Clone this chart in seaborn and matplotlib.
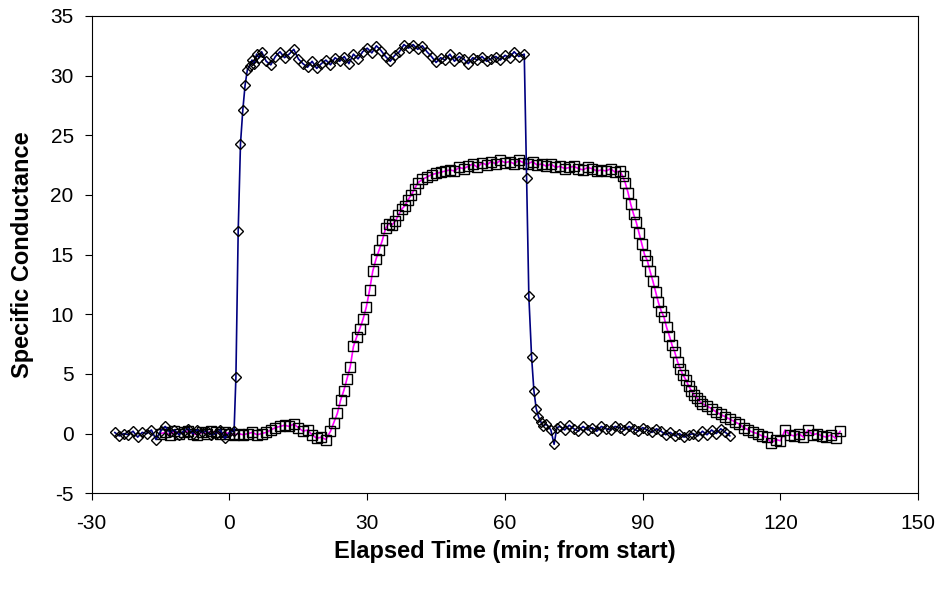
# specific conductance over elapsed time, two probes

import matplotlib
matplotlib.use("Agg")
import matplotlib.pyplot as plt
import pandas as pd
import seaborn as sns

# probe 1 (diamonds, navy line)
timeA = [-25, -24, -23, -22, -21, -20, -19, -18, -17, -16, -15, -14, -13, -12, -11, -10,
         -9, -8, -7, -6, -5, -4, -3, -2, -1, 0, 1,
         1.4, 1.9, 2.4, 2.9, 3.4, 3.9, 4.4, 4.9, 5.4, 5.9, 6.4,
         7, 8, 9, 10, 11, 12, 13, 14, 15, 16, 17, 18, 19, 20, 21, 22, 23, 24, 25, 26,
         27, 28, 29, 30, 31, 32, 33, 34, 35, 36, 37, 38, 39, 40, 41, 42, 43, 44, 45,
         46, 47, 48, 49, 50, 51, 52, 53, 54, 55, 56, 57, 58, 59, 60, 61, 62, 63,
         64.2, 64.7, 65.2, 65.8, 66.3, 66.8, 67.3, 67.8, 68.3,
         69, 70, 70.7, 71.3, 72, 73, 74, 75, 76, 77, 78, 79, 80, 81, 82, 83, 84, 85,
         86, 87, 88, 89, 90, 91, 92, 93, 94, 95, 96, 97, 98, 99, 100, 101, 102, 103,
         104, 105, 106, 107, 108, 109]
condA = [0.1, -0.2, 0.0, -0.1, 0.2, -0.3, 0.1, 0.0, 0.3, -0.5, 0.2, 0.6, 0.1, 0.3, -0.1, 0.2,
         0.4, 0.0, 0.3, 0.1, 0.2, -0.1, 0.0, 0.3, -0.4, 0.1, 0.2,
         4.7, 17.0, 24.3, 27.1, 29.2, 30.5, 30.8, 31.3, 31.0, 31.8, 31.5,
         32.0, 31.2, 30.9, 31.6, 32.0, 31.5, 31.8, 32.2, 31.4, 31.0, 30.7, 31.2, 30.6, 31.0,
         31.3, 30.9, 31.5, 31.2, 31.6, 31.0,
         31.8, 31.4, 32.0, 32.3, 31.9, 32.5, 32.1, 31.6, 31.2, 31.7, 32.0, 32.6, 32.3, 32.6,
         32.2, 32.5, 32.0, 31.6, 31.1,
         31.5, 31.3, 31.8, 31.2, 31.6, 31.4, 31.0, 31.5, 31.3, 31.6, 31.2, 31.4, 31.6, 31.3,
         31.7, 31.5, 32.0, 31.6,
         31.8, 21.4, 11.5, 6.4, 3.6, 2.1, 1.4, 1.0, 0.6,
         0.8, 0.3, -0.9, 0.5, 0.6, 0.3, 0.7, 0.4, 0.2, 0.6, 0.3, 0.5, 0.2, 0.6, 0.4, 0.3,
         0.6, 0.5,
         0.3, 0.6, 0.4, 0.2, 0.5, 0.3, 0.1, 0.4, 0.2, -0.1, 0.1, -0.2, 0.0, -0.3, -0.1, 0.0,
         -0.2, 0.2,
         -0.1, 0.3, 0.0, 0.4, 0.1, -0.2]

# probe 2 (squares, magenta line)
timeB = [-15, -14, -13, -12, -11, -10, -9, -8, -7, -6, -5, -4, -3, -2, -1, 0, 1, 2, 3, 4,
         5, 6, 7, 8, 9, 10, 11, 12, 13, 14, 15, 16, 17, 18, 19, 20, 21, 22,
         22.7, 23.5, 24.2, 24.9, 25.6, 26.3, 27.0, 27.7, 28.4, 29.1, 29.8, 30.5, 31.2, 31.9,
         32.6, 33.3, 34.0, 34.7, 35.4, 36.1, 36.8, 37.5, 38.2, 38.9, 39.6, 40.3, 41.0,
         42, 43, 44, 45, 46, 47, 48, 49, 50, 51, 52, 53, 54, 55, 56, 57, 58, 59, 60, 61,
         62, 63, 64, 65, 66, 67, 68, 69, 70, 71, 72, 73, 74, 75, 76, 77, 78, 79, 80, 81,
         82, 83, 84, 85,
         85.6, 86.2, 86.8, 87.4, 88.0, 88.6, 89.2, 89.8, 90.4, 91.0, 91.6, 92.2, 92.8, 93.4,
         94.0, 94.6, 95.2, 95.8, 96.4, 97.0, 97.6, 98.2, 98.8, 99.4, 100.0, 100.6, 101.2,
         101.8, 102.4,
         103, 104, 105, 106, 107, 108, 109, 110, 111, 112, 113, 114, 115, 116, 117, 118,
         119, 120, 121, 122, 123, 124, 125, 126, 127, 128, 129, 130, 131, 132, 133]
condB = [0.0, 0.1, -0.1, 0.2, 0.0, 0.1, 0.2, 0.0, -0.1, 0.1, 0.0, 0.2, 0.1, 0.0, 0.1, 0.0,
         -0.1, 0.0, -0.1, 0.0,
         0.1, -0.1, 0.0, 0.1, 0.3, 0.5, 0.6, 0.7, 0.6, 0.8, 0.5, 0.2, 0.3, -0.1, -0.4, -0.3,
         -0.5, 0.2,
         0.9, 1.7, 2.8, 3.6, 4.6, 5.6, 7.3, 8.1, 8.8, 9.6, 10.6, 12.0, 13.6, 14.6,
         15.4, 16.2, 17.2, 17.6, 17.5, 17.8, 18.3, 18.8, 19.1, 19.6, 20.0, 20.5, 21.0,
         21.3, 21.5, 21.7, 21.8, 21.9, 22.0, 22.1, 22.0, 22.3, 22.2, 22.4, 22.6, 22.3, 22.7,
         22.5, 22.8, 22.6, 22.9, 22.7, 22.8,
         22.6, 22.9, 22.7, 22.6, 22.8, 22.5, 22.6, 22.4, 22.6, 22.3, 22.4, 22.2, 22.3, 22.4,
         22.2, 22.1, 22.3, 22.2, 22.0, 22.1,
         22.0, 22.2, 21.9, 22.0,
         21.6, 21.0, 20.2, 19.2, 18.4, 17.7, 16.8, 15.9, 15.0, 14.5, 13.6, 12.8, 11.9, 11.0,
         10.3, 9.8, 8.9, 8.2, 7.4, 6.8, 6.0, 5.4, 4.9, 4.5, 4.0, 3.6, 3.2,
         3.0, 2.7,
         2.5, 2.3, 2.1, 1.8, 1.6, 1.4, 1.2, 1.0, 0.8, 0.5, 0.3, 0.1, 0.0, -0.2, -0.3, -0.8,
         -0.5, -0.6, 0.3, -0.1, -0.2, 0.0, -0.3, 0.3, -0.1, 0.0, -0.2, -0.3, -0.1, -0.4, 0.2]

xTicks = [-30, 0, 30, 60, 90, 120, 150]
yTicks = [-5, 0, 5, 10, 15, 20, 25, 30, 35]

dfA = pd.DataFrame({"time": timeA, "cond": condA})
dfB = pd.DataFrame({"time": timeB, "cond": condB})

sns.set_style("ticks")
plt.rcParams["font.family"] = ["Liberation Sans", "DejaVu Sans"]
plt.rcParams["axes.unicode_minus"] = False

fig, ax = plt.subplots(figsize=(9.36, 5.9), dpi=100)
fig.subplots_adjust(left=0.098, right=0.981, top=0.973, bottom=0.164)

sns.lineplot(data=dfB, x="time", y="cond", ax=ax, sort=False, estimator=None,
             color="#FF00FF", linewidth=1.2, marker="s", markersize=6.8,
             markerfacecolor="none", markeredgecolor="black", markeredgewidth=1.0)
sns.lineplot(data=dfA, x="time", y="cond", ax=ax, sort=False, estimator=None,
             color="#000080", linewidth=1.2, marker="D", markersize=5.2,
             markerfacecolor="none", markeredgecolor="black", markeredgewidth=1.0)

ax.set_xlim(-30, 150)
ax.set_ylim(-5, 35)
ax.set_xticks(xTicks)
ax.set_yticks(yTicks)
ax.tick_params(labelsize=15, length=5, width=0.8, direction="out", colors="black",
               labelcolor="black")
ax.tick_params(axis="x", pad=10)
ax.tick_params(axis="y", pad=8)
for side in ["top", "right", "left", "bottom"]:
    ax.spines[side].set_visible(True)
    ax.spines[side].set_color("black")
    ax.spines[side].set_linewidth(0.8)

ax.set_xlabel("Elapsed Time (min; from start)", fontsize=17, fontweight="bold",
              color="black", labelpad=5)
ax.set_ylabel("Specific Conductance", fontsize=17, fontweight="bold",
              color="black", labelpad=12)

plt.savefig("out.png", dpi=100)
